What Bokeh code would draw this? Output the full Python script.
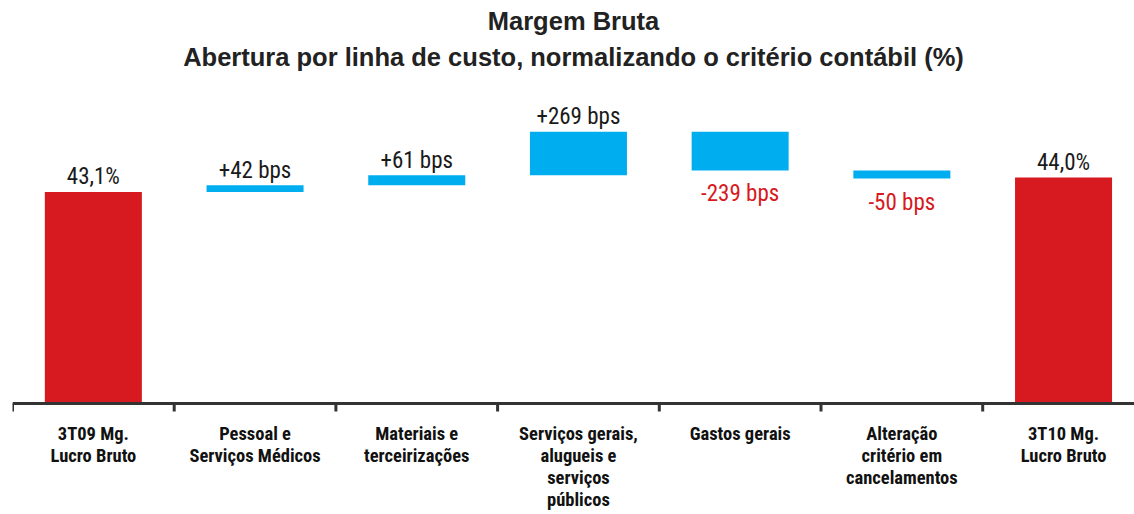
from bokeh.plotting import figure
from bokeh.models import ColumnDataSource, Range1d, Title, Span
from bokeh.core.properties import value
from bokeh.embed import file_html
from bokeh.resources import INLINE

# ---------------- data ----------------
categories = [
    "3T09 Mg.\nLucro Bruto",
    "Pessoal e\nServiços Médicos",
    "Materiais e\nterceirizações",
    "Serviços gerais,\nalugueis e\nserviços\npúblicos",
    "Gastos gerais",
    "Alteração\ncritério em\ncancelamentos",
    "3T10 Mg.\nLucro Bruto",
]
start_margin = 43.1          # %
end_margin = 44.0            # %
deltas_bps = [42, 61, 269, -239, -50]

title_line1 = "Margem Bruta"
title_line2 = "Abertura por linha de custo, normalizando o critério contábil (%)"

# ---------------- style / geometry ----------------
RED = "#D71920"
BLUE = "#00AEEF"
DARK = "#1a1a1a"
AXIS_C = "#333333"
FONT = "'Roboto Condensed', 'Liberation Sans Narrow', 'DejaVu Sans Condensed', sans-serif"
TITLE_FONT = "'Liberation Sans', Arial, sans-serif"
BASE = 30.0                  # value at the axis line (broken axis)
Y_TOP = 50.0
PX_PER_UNIT = 16.15          # vertical pixels per percentage point
BELOW_PX = 111               # room under the axis line for the category labels
BAR_W = 0.6
CAT_PX = 161.7
FRAME_W = 1122

# ---------------- waterfall build ----------------
def pct(v):
    return f"{v:.1f}".replace(".", ",") + "%"

xs, bottoms, tops, colors = [], [], [], []
up_x, up_y, up_t, up_c = [], [], [], []
dn_x, dn_y, dn_t, dn_c = [], [], [], []

xs.append(0); bottoms.append(BASE); tops.append(start_margin); colors.append(RED)
up_x.append(0); up_y.append(start_margin); up_t.append(pct(start_margin)); up_c.append(DARK)

level = start_margin
for i, d in enumerate(deltas_bps, start=1):
    new = level + d / 100.0
    xs.append(i); bottoms.append(min(level, new)); tops.append(max(level, new)); colors.append(BLUE)
    if d >= 0:
        up_x.append(i); up_y.append(new); up_t.append(f"+{d} bps"); up_c.append(DARK)
    else:
        dn_x.append(i); dn_y.append(new); dn_t.append(f"{d} bps"); dn_c.append(RED)
    level = new

n = len(categories) - 1
xs.append(n); bottoms.append(BASE); tops.append(end_margin); colors.append(RED)
up_x.append(n); up_y.append(end_margin); up_t.append(pct(end_margin)); up_c.append(DARK)

bars = ColumnDataSource(dict(x=xs, bottom=bottoms, top=tops, color=colors))
up_src = ColumnDataSource(dict(x=up_x, y=up_y, text=up_t, color=up_c))
dn_src = ColumnDataSource(dict(x=dn_x, y=dn_y, text=dn_t, color=dn_c))
cat_src = ColumnDataSource(dict(x=list(range(len(categories))),
                                y=[BASE] * len(categories), text=categories))
bounds = [i - 0.5 for i in range(len(categories))]
tick_src = ColumnDataSource(dict(x=bounds, y0=[BASE] * len(bounds),
                                 y1=[BASE - 8 / PX_PER_UNIT] * len(bounds)))

# ---------------- figure ----------------
p = figure(
    width=1134, height=514,
    x_range=Range1d(-0.5, -0.5 + FRAME_W / CAT_PX),
    y_range=Range1d(BASE - BELOW_PX / PX_PER_UNIT, Y_TOP),
    output_backend="svg", toolbar_location=None,
    min_border_left=12, min_border_right=0, min_border_top=80, min_border_bottom=0,
)
p.background_fill_color = "white"
p.border_fill_color = "white"
p.outline_line_color = None
p.grid.visible = False
p.xaxis.visible = False
p.yaxis.visible = False

p.title.text = title_line1
p.title.align = "center"
p.title.vertical_align = "bottom"
p.title.text_font = TITLE_FONT
p.title.text_font_size = "25.5px"
p.title.text_font_style = "bold"
p.title.text_color = "#222222"
p.title.text_line_height = 0.85
p.title.standoff = 0
p.add_layout(Title(text=title_line2, align="center", vertical_align="top",
                   text_font=TITLE_FONT,
                   text_font_size="25.5px", text_font_style="bold",
                   text_color="#222222", text_line_height=0.85, standoff=16), "above")

p.vbar(x="x", width=BAR_W, bottom="bottom", top="top", color="color", source=bars,
       line_color=None)

# axis line + tick marks at the category boundaries
p.add_layout(Span(location=BASE, dimension="width", line_color=AXIS_C, line_width=3))
p.segment(x0="x", y0="y0", x1="x", y1="y1", source=tick_src,
          line_color=AXIS_C, line_width=3)

# category labels
p.text(x="x", y="y", text="text", source=cat_src,
       text_align="center", text_baseline="top", y_offset=19,
       text_font=value(FONT), text_font_style="bold", text_font_size="18.5px",
       text_color="#111111", text_line_height=1.0)

# value labels
p.text(x="x", y="y", text="text", text_color="color", source=up_src,
       text_align="center", text_baseline="alphabetic", y_offset=-15,
       text_font=value(FONT), text_font_size="23px")
p.text(x="x", y="y", text="text", text_color="color", source=dn_src,
       text_align="center", text_baseline="top", y_offset=10,
       text_font=value(FONT), text_font_size="23px")

open("out.html", "w").write(file_html(p, INLINE))
